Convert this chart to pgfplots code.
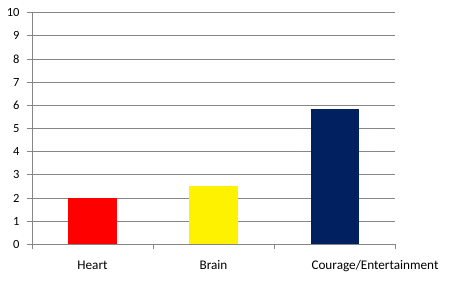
\documentclass[border=0pt]{standalone}
\usepackage{pgfplots}
\pgfplotsset{compat=1.18}
\usepackage{fontspec}
\setmainfont{Carlito}
\definecolor{gridgray}{HTML}{868686}
\definecolor{navy}{HTML}{002060}
\begin{document}
\begin{tikzpicture}[x=1bp,y=1bp]
\useasboundingbox (-32bp,-46.7bp) rectangle (424bp,244.3bp);
\begin{axis}[
  at={(0,0)}, anchor=south west,
  scale only axis,
  width=363bp, height=231.6bp,
  xmin=-0.5, xmax=2.5,
  ymin=0, ymax=10,
  ytick={0,1,...,10},
  ymajorgrids,
  grid style={gridgray, line width=0.8pt},
  axis x line*=bottom,
  axis y line*=left,
  axis line style={gridgray, line width=0.8pt},
  every tick/.style={gridgray, line width=0.8pt},
  tick align=outside,
  major tick length=5bp,
  xtick={-0.5,0.5,1.5,2.5},
  xticklabels={},
  extra x ticks={0,1,2},
  extra x tick labels={Heart,Brain,\makebox[0pt][l]{\hspace*{-23bp}Courage/Entertainment}},
  extra x tick style={major tick length=0pt, grid=none,
     tick label style={yshift=-13bp}},
  x tick label style={font=\fontsize{13.2bp}{15bp}\selectfont, text=black},
  y tick label style={font=\fontsize{12.5bp}{14bp}\selectfont, text=black, xshift=-4bp},
  /pgf/number format/assume math mode=true,
  ybar, bar width=48bp,
  clip=false,
]
\addplot[fill=red, draw=none, bar shift=0pt] coordinates {(0,2)};
\addplot[fill=yellow, draw=none, bar shift=0pt] coordinates {(1,2.5)};
\addplot[fill=navy, draw=none, bar shift=0pt] coordinates {(2,5.84)};
\end{axis}
\end{tikzpicture}
\end{document}
